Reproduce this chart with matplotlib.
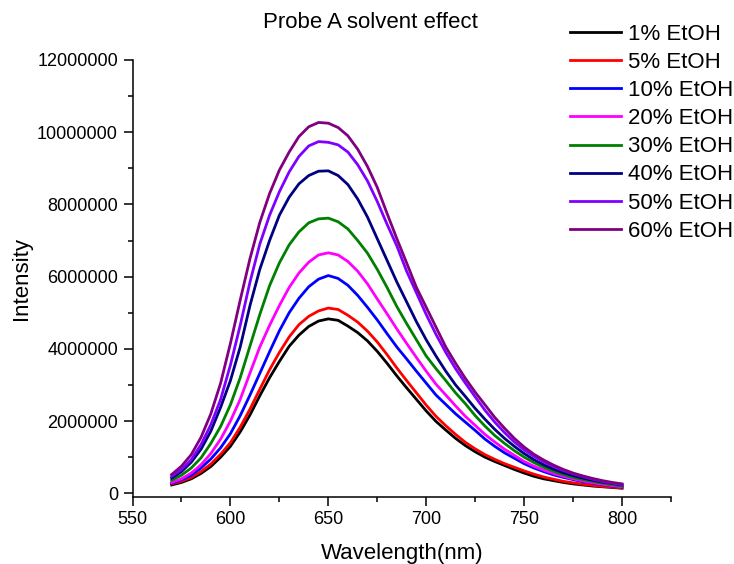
import matplotlib
matplotlib.use('Agg')
import matplotlib.pyplot as plt
import numpy as np
from matplotlib.ticker import MultipleLocator, FuncFormatter

plt.rcParams['font.family'] = ['Liberation Sans', 'DejaVu Sans']

# wavelengths (nm)
wavelength = list(range(570, 801, 5))

labels = ['1% EtOH', '5% EtOH', '10% EtOH', '20% EtOH',
          '30% EtOH', '40% EtOH', '50% EtOH', '60% EtOH']
colors = ['#000000', '#FF0000', '#0000FF', '#FF00FF',
          '#008000', '#000080', '#8000FF', '#800080']

# intensities in millions
etoh_1 = [0.23, 0.3, 0.4, 0.55, 0.74, 1.0, 1.3, 1.7, 2.17, 2.7,
          3.2, 3.65, 4.07, 4.38, 4.62, 4.77, 4.83, 4.79, 4.63, 4.45,
          4.22, 3.93, 3.6, 3.25, 2.92, 2.6, 2.28, 1.99, 1.75, 1.52,
          1.32, 1.15, 1.0, 0.88, 0.77, 0.66, 0.56, 0.47, 0.4, 0.35,
          0.3, 0.26, 0.23, 0.2, 0.18, 0.16, 0.14]
etoh_5 = [0.26, 0.33, 0.44, 0.6, 0.81, 1.08, 1.4, 1.83, 2.33, 2.88,
          3.42, 3.9, 4.33, 4.67, 4.9, 5.05, 5.13, 5.09, 4.93, 4.74,
          4.49, 4.19, 3.84, 3.47, 3.12, 2.78, 2.44, 2.13, 1.87, 1.63,
          1.41, 1.23, 1.07, 0.94, 0.82, 0.72, 0.62, 0.53, 0.45, 0.39,
          0.33, 0.29, 0.25, 0.22, 0.19, 0.17, 0.15]
etoh_10 = [0.28, 0.37, 0.5, 0.7, 0.95, 1.26, 1.65, 2.15, 2.72, 3.32,
           3.92, 4.5, 5.0, 5.4, 5.72, 5.93, 6.03, 5.95, 5.76, 5.48,
           5.15, 4.8, 4.42, 4.05, 3.72, 3.38, 3.05, 2.72, 2.46, 2.2,
           1.97, 1.74, 1.5, 1.3, 1.12, 0.97, 0.82, 0.7, 0.6, 0.51,
           0.44, 0.38, 0.32, 0.28, 0.24, 0.2, 0.17]
etoh_20 = [0.3, 0.4, 0.56, 0.79, 1.1, 1.5, 2.0, 2.6, 3.33, 4.05,
           4.65, 5.2, 5.7, 6.1, 6.4, 6.6, 6.66, 6.6, 6.42, 6.15,
           5.8, 5.38, 4.97, 4.55, 4.15, 3.76, 3.38, 3.02, 2.72, 2.42,
           2.13, 1.88, 1.63, 1.42, 1.22, 1.05, 0.88, 0.75, 0.64, 0.55,
           0.47, 0.4, 0.34, 0.29, 0.25, 0.21, 0.18]
etoh_30 = [0.36, 0.5, 0.7, 0.98, 1.38, 1.85, 2.45, 3.2, 4.08, 4.95,
           5.75, 6.38, 6.88, 7.24, 7.49, 7.6, 7.62, 7.52, 7.32, 7.0,
           6.65, 6.2, 5.7, 5.17, 4.7, 4.25, 3.8, 3.45, 3.12, 2.78,
           2.48, 2.15, 1.86, 1.6, 1.38, 1.18, 1.0, 0.85, 0.72, 0.61,
           0.52, 0.44, 0.38, 0.33, 0.28, 0.24, 0.2]
etoh_40 = [0.42, 0.6, 0.86, 1.22, 1.72, 2.38, 3.12, 4.05, 5.2, 6.2,
           7.0, 7.7, 8.2, 8.57, 8.8, 8.92, 8.93, 8.8, 8.55, 8.15,
           7.65, 7.05, 6.45, 5.85, 5.3, 4.75, 4.25, 3.8, 3.38, 3.0,
           2.68, 2.35, 2.05, 1.77, 1.52, 1.3, 1.1, 0.93, 0.79, 0.67,
           0.57, 0.49, 0.42, 0.36, 0.31, 0.27, 0.23]
etoh_50 = [0.47, 0.66, 0.93, 1.35, 1.9, 2.6, 3.55, 4.65, 5.85, 6.9,
           7.7, 8.35, 8.9, 9.33, 9.62, 9.74, 9.72, 9.65, 9.45, 9.1,
           8.65, 8.08, 7.45, 6.85, 6.15, 5.55, 4.95, 4.4, 3.9, 3.45,
           3.05, 2.67, 2.3, 1.97, 1.68, 1.42, 1.2, 1.02, 0.87, 0.74,
           0.63, 0.54, 0.46, 0.39, 0.33, 0.28, 0.24]
etoh_60 = [0.52, 0.75, 1.07, 1.55, 2.2, 3.05, 4.15, 5.35, 6.5, 7.5,
           8.3, 8.95, 9.45, 9.88, 10.15, 10.27, 10.25, 10.13, 9.9, 9.53,
           9.05, 8.47, 7.75, 7.05, 6.38, 5.7, 5.15, 4.6, 4.05, 3.6,
           3.18, 2.8, 2.45, 2.1, 1.8, 1.52, 1.28, 1.08, 0.92, 0.78,
           0.66, 0.56, 0.48, 0.41, 0.35, 0.3, 0.26]

series = [etoh_1, etoh_5, etoh_10, etoh_20, etoh_30, etoh_40, etoh_50, etoh_60]

W, H = 734, 564
fig = plt.figure(figsize=(W / 100, H / 100), dpi=100)
left, right, top, bottom = 132.5, 671.0, 60.0, 496.7
ax = fig.add_axes([left / W, 1 - bottom / H, (right - left) / W, (bottom - top) / H])

for vals, c, lab in zip(series, colors, labels):
    ax.plot(wavelength, np.array(vals) * 1e6, color=c, lw=2.0, label=lab)

ax.set_xlim(550, 825)
ax.set_ylim(-95000, 12000000)
ax.spines['top'].set_visible(False)
ax.spines['right'].set_visible(False)
for s in ('left', 'bottom'):
    ax.spines[s].set_linewidth(1.1)

ax.xaxis.set_major_locator(MultipleLocator(50))
ax.xaxis.set_minor_locator(MultipleLocator(25))
ax.yaxis.set_major_locator(MultipleLocator(2000000))
ax.yaxis.set_minor_locator(MultipleLocator(1000000))
ax.yaxis.set_major_formatter(FuncFormatter(lambda v, p: f'{int(round(v))}'))
ax.xaxis.set_major_formatter(FuncFormatter(lambda v, p: f'{int(round(v))}'))
ax.tick_params(which='major', direction='out', length=6.5, width=1.1,
               labelsize=13, pad=4)
ax.tick_params(which='minor', direction='out', length=3.3, width=1.1)

fig.text(370.5 / W, 1 - 23 / H, 'Probe A solvent effect', ha='center',
         va='center', fontsize=16)
fig.text(401.75 / W, 1 - 553 / H, 'Wavelength(nm)', ha='center',
         va='center', fontsize=16)
fig.text(21 / W, 1 - 278 / H, 'Intensity', ha='center', va='center',
         rotation=90, fontsize=16)

fig.legend(loc='upper left', bbox_to_anchor=(569.5 / W, 1 - 23.5 / H),
           frameon=False, fontsize=16, handlelength=2.3, handletextpad=0.32,
           labelspacing=0.324, borderaxespad=0, borderpad=0)

fig.savefig('out.png', dpi=100)
